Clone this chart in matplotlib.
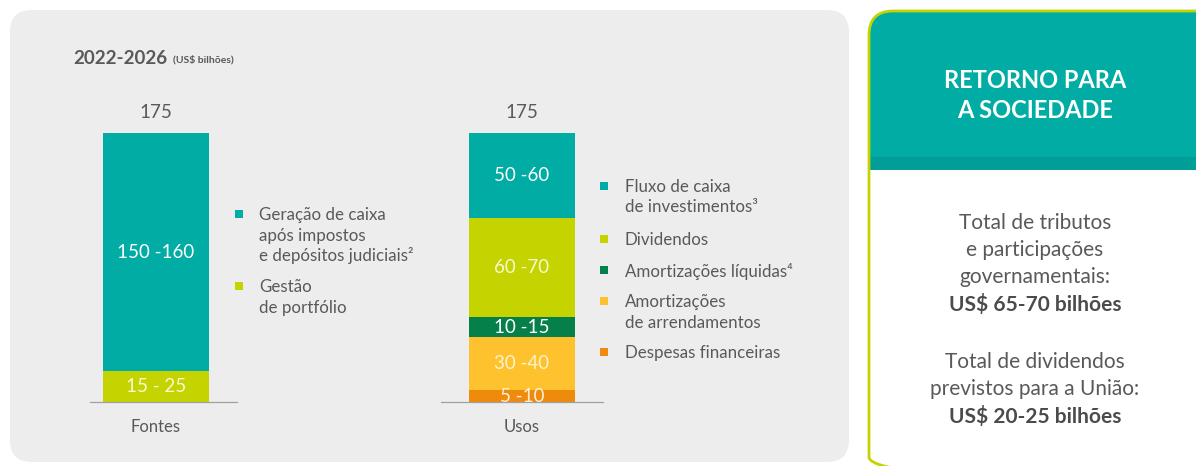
import matplotlib
matplotlib.use("Agg")
import matplotlib.pyplot as plt
from matplotlib.patches import FancyBboxPatch, Rectangle

# ---------------- data ----------------
categories = ["Fontes", "Usos"]
totals = ["175", "175"]

fontes_values = [155, 20]                      # top -> bottom
fontes_labels = ["150 -160", "15 - 25"]
fontes_series = [["Geração de caixa", "após impostos", "e depósitos judiciais²"],
                 ["Gestão", "de portfólio"]]

usos_values = [55, 65, 12.5, 35, 7.5]          # top -> bottom
usos_labels = ["50 -60", "60 -70", "10 -15", "30 -40", "5 -10"]
usos_series = [["Fluxo de caixa", "de investimentos³"], ["Dividendos"],
               ["Amortizações líquidas⁴"], ["Amortizações", "de arrendamentos"],
               ["Despesas financeiras"]]

title_main = "2022-2026"
title_unit = "(US$ bilhões)"
card_title = ["RETORNO PARA", "A SOCIEDADE"]
card_lines_1 = ["Total de tributos", "e participações", "governamentais:"]
card_value_1 = "US$ 65-70 bilhões"
card_lines_2 = ["Total de dividendos", "previstos para a União:"]
card_value_2 = "US$ 20-25 bilhões"

# ---------------- style ----------------
TEAL = "#00ACA4"
LIME = "#C5D400"
DKGREEN = "#06804A"
YELLOW = "#FDC22E"
ORANGE = "#EE8A0C"
PANEL = "#EDEDED"
TXT = "#58595B"
fontes_colors = [TEAL, LIME]
usos_colors = [TEAL, LIME, DKGREEN, YELLOW, ORANGE]
label_colors_f = ["white", "#F7F9D0"]
label_colors_u = ["white", "#F7F9D0", "white", "#FFF3CC", "#FFF0DA"]

FONT = ["Lato", "DejaVu Sans"]
plt.rcParams["font.family"] = FONT

W, H = 1196, 466
fig = plt.figure(figsize=(W / 100, H / 100), dpi=100)
fig.patch.set_facecolor("white")

bg = fig.add_axes([0, 0, 1, 1])
bg.set_xlim(0, W)
bg.set_ylim(H, 0)
bg.axis("off")
bg.set_zorder(0)

panel = FancyBboxPatch((10 + 20, 10 + 20), 839 - 40, 452 - 40,
                       boxstyle="round,pad=20,rounding_size=22",
                       fc=PANEL, ec="none")
bg.add_patch(panel)

card = FancyBboxPatch((869 + 20, 11 + 20), 360 - 40, 470 - 40,
                      boxstyle="round,pad=20,rounding_size=24",
                      fc="white", ec="none")
bg.add_patch(card)
hdr = Rectangle((860, 0), 400, 157, fc=TEAL, ec="none")
bg.add_patch(hdr)
hdr.set_clip_path(card)
band = Rectangle((860, 157), 400, 13, fc="#009E97", ec="none")
bg.add_patch(band)
band.set_clip_path(card)
border = FancyBboxPatch((869 + 20, 11 + 20), 360 - 40, 470 - 40,
                        boxstyle="round,pad=20,rounding_size=24",
                        fc="none", ec=LIME, lw=2.0)
bg.add_patch(border)

# titles
bg.text(73, 58, title_main, fontsize=13.5, fontweight="bold", color=TXT,
        va="center", ha="left")
bg.text(173, 60, title_unit, fontsize=7.5, fontweight="bold", color=TXT,
        va="center", ha="left")

# card texts
cx = 1035
for t, y in zip(card_title, [80, 110]):
    bg.text(cx, y, t, fontsize=17, fontweight="bold", color="white",
            ha="center", va="center")
for t, y in zip(card_lines_1, [223, 250, 277]):
    bg.text(cx, y, t, fontsize=15, color=TXT, ha="center", va="center")
bg.text(cx, 305, card_value_1, fontsize=15, fontweight="bold", color="#4A4B4D",
        ha="center", va="center")
for t, y in zip(card_lines_2, [362, 389]):
    bg.text(cx, y, t, fontsize=15, color=TXT, ha="center", va="center")
bg.text(cx, 416, card_value_2, fontsize=15, fontweight="bold", color="#4A4B4D",
        ha="center", va="center")

# legends
def legend(x_sq, x_txt, items, colors, ys, step=20.5):
    for lines, col, y in zip(items, colors, ys):
        bg.add_patch(Rectangle((x_sq, y - 5), 8, 8, fc=col, ec="none"))
        for k, ln in enumerate(lines):
            bg.text(x_txt, y + k * step, ln, fontsize=12.2, color=TXT,
                    ha="left", va="center")

legend(235, 259, fontes_series, fontes_colors, [215, 287])
legend(600, 625, usos_series, usos_colors, [187, 240, 271, 302, 353])

# bar axes
px_per_unit = 269 / 175.0
base_px = 402
ax_left, ax_right = 90, 610
ymax = 200
ax_top_px = base_px - ymax * px_per_unit
ax = fig.add_axes([ax_left / W, (H - base_px) / H, (ax_right - ax_left) / W,
                   (base_px - ax_top_px) / H])
ax.set_zorder(2)
ax.patch.set_alpha(0)
c0, c1 = 156, 522
unit = c1 - c0
ax.set_xlim((ax_left - c0) / unit, (ax_right - c0) / unit)
ax.set_ylim(0, ymax)
ax.axis("off")
bw = 106 / unit

def stack(x, values, colors, labels, lcolors):
    top = sum(values)
    cur = top
    for v, col, lab, lc in zip(values, colors, labels, lcolors):
        ax.bar(x, v, bottom=cur - v, width=bw, color=col, edgecolor="none")
        ax.text(x, cur - v / 2, lab, ha="center", va="center", fontsize=13.5,
                color=lc)
        cur -= v
    ax.text(x, top + 13.5, totals[x], ha="center", va="center", fontsize=13.5,
            color=TXT)

stack(0, fontes_values, fontes_colors, fontes_labels, label_colors_f)
stack(1, usos_values, usos_colors, usos_labels, label_colors_u)

ax.plot([(90 - c0) / unit, (237 - c0) / unit], [0, 0], color="#A0A0A0", lw=0.9,
        clip_on=False)
ax.plot([(441 - c0) / unit, (603 - c0) / unit], [0, 0], color="#A0A0A0", lw=0.9,
        clip_on=False)
for i, c in enumerate(categories):
    ax.text(i, -25 / px_per_unit, c, ha="center", va="center",
            fontsize=12, color=TXT)

fig.savefig("out.png", dpi=100)
